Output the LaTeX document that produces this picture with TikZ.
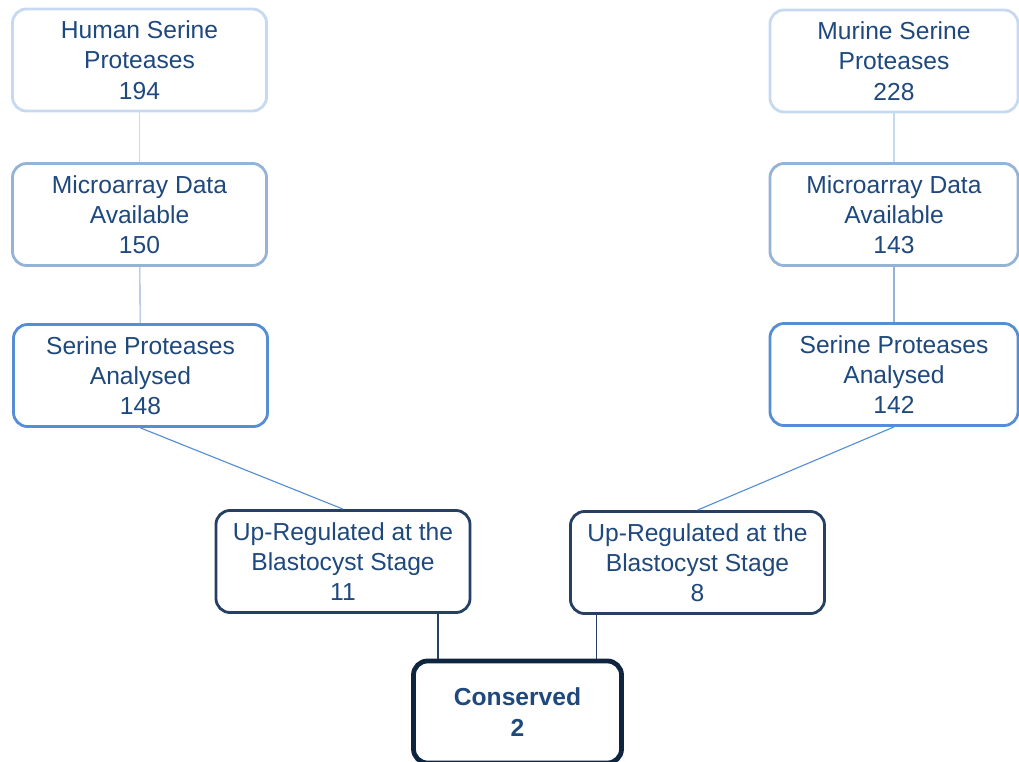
\documentclass[tikz,border=0pt]{standalone}
\usepackage{fontspec}
\setmainfont{Liberation Sans}
\usepackage{tikz}
\usetikzlibrary{calc}
\definecolor{txtblue}{RGB}{31,73,125}
\definecolor{paleblue}{RGB}{198,217,241}
\definecolor{midblue}{RGB}{149,179,215}
\definecolor{strongblue}{RGB}{85,142,213}
\definecolor{darkblue}{RGB}{37,64,97}
\definecolor{navyblue}{RGB}{15,36,62}

\begin{document}
\begin{tikzpicture}[x=0.025cm,y=-0.025cm,
box/.style={draw,rounded corners=10pt,fill=white,text=txtblue,align=center,
minimum width=6.35cm,minimum height=2.55cm,inner sep=2pt,
font=\fontsize{17.5}{21.5}\selectfont},
lvla/.style={box,draw=paleblue,line width=2pt},
lvlb/.style={box,draw=midblue,line width=2pt},
lvlc/.style={box,draw=strongblue,line width=2pt},
lvld/.style={box,draw=darkblue,line width=2pt},
lvle/.style={box,draw=navyblue,line width=3.4pt,minimum width=5.2cm,
font=\fontsize{17.5}{21.5}\selectfont\bfseries},
lnk/.style={line width=0.8pt}
]
\useasboundingbox (0,0) rectangle (1019,762);
\node[lvla] (hsp) at (139.5,60) {Human Serine\\Proteases\\194};
\node[lvlb] (hmic) at (139.5,214.5) {Microarray Data\\Available\\150};
\node[lvlc] (hana) at (140.5,375.5) {Serine Proteases\\Analysed\\148};
\node[lvla,minimum width=6.2cm] (msp) at (894,61) {Murine Serine\\Proteases\\228};
\node[lvlb,minimum width=6.2cm] (mmic) at (894,214.5) {Microarray Data\\Available\\143};
\node[lvlc,minimum width=6.2cm] (mana) at (894,374.5) {Serine Proteases\\Analysed\\142};
\node[lvld] (hup) at (343,561.5) {Up-Regulated at the\\Blastocyst Stage\\11};
\node[lvld] (mup) at (697.5,562.5) {Up-Regulated at the\\Blastocyst Stage\\8};
\node[lvle] (cons) at (517.5,712) {Conserved\\2};
% links
\draw[lnk,paleblue] (hsp) -- (hmic);
\draw[lnk,midblue] (hmic) -- (hana);
\draw[lnk,paleblue] (msp) -- (mmic);
\draw[lnk,midblue] (mmic) -- (mana);
\draw[lnk,strongblue] (hana.south) -- (hup.north);
\draw[lnk,strongblue] (mana.south) -- (mup.north);
\draw[lnk,darkblue] ($(hup.south west)!0.87!(hup.south east)$) coordinate (hl) -- (hl |- cons.north);
\draw[lnk,darkblue] ($(mup.south west)!0.106!(mup.south east)$) coordinate (ml) -- (ml |- cons.north);
\end{tikzpicture}
\end{document}
